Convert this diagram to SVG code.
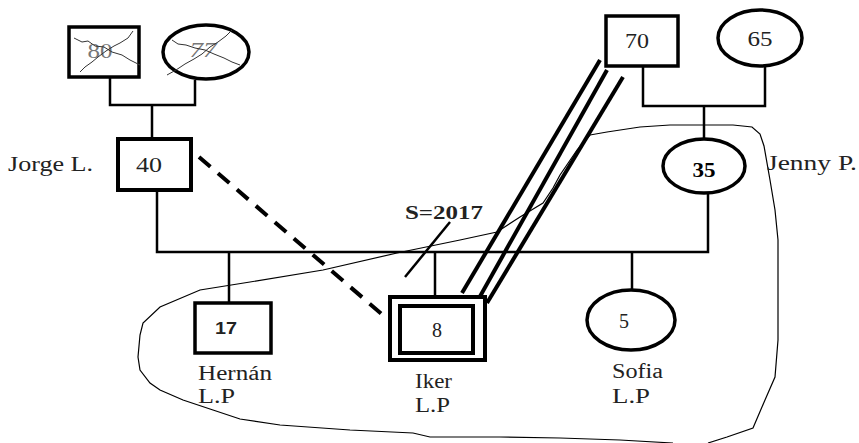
<svg xmlns="http://www.w3.org/2000/svg" width="859" height="443" viewBox="0 0 859 443">
<style>
.n{fill:#fff;stroke:#000;stroke-width:3.5}
.c{fill:none;stroke:#000;stroke-width:2.5}
.t{font-family:"Liberation Serif",serif;font-size:21px;fill:#222}
.lbl{font-family:"Liberation Serif",serif;font-size:20px;fill:#222}
.x{fill:none;stroke:#333;stroke-width:1}
</style>
<rect width="859" height="443" fill="#fff"/>
<g id="boundary">
<path d="M590,135 L607,132 L640,127 L670,125 L733,125 L752,127 L760,134 L764,146 L770,180 L775,210 L778,240 L778,340 L775,377 L765,400 L753,428 L727,437 L708,443 M673,443 L620,440 L560,438 L500,437 L430,437 L413,433 L350,430 L280,425 L240,419 L213,410 L183,400 L160,390 L150,383 L140,370 L138,357 L140,335 L143,323 L160,307 L200,290 L250,282 L323,270 L397,253 L460,240 L497,232 L520,217 L543,203 L553,188 L560,175 L577,150 L590,135" fill="none" stroke="#000" stroke-width="1.2"/>
</g>
<g id="connectors">
<path class="c" d="M110,77 V105 H195 V80 M152,105 V139"/>
<path class="c" d="M643,66 V106 H765 V66 M704,106 V138"/>
<path class="c" d="M157,190 V252 H708 V193"/>
<path class="c" d="M229,252 V303 M435,252 V297 M632,252 V290"/>
<line x1="199" y1="157" x2="384" y2="316" stroke="#000" stroke-width="4" stroke-dasharray="15,10"/>
<line x1="600" y1="60" x2="462" y2="293" stroke="#000" stroke-width="4"/>
<line x1="607" y1="70" x2="478" y2="300" stroke="#000" stroke-width="4"/>
<line x1="623" y1="77" x2="487" y2="303" stroke="#000" stroke-width="4"/>
<line x1="450" y1="222" x2="405" y2="277" stroke="#000" stroke-width="2.5"/>
</g>
<g id="n80">
<rect class="n" x="69" y="27" width="70" height="50"/>
<text class="t" x="100" y="58" text-anchor="middle" textLength="25" lengthAdjust="spacingAndGlyphs" style="fill:#777">80</text>
<path class="x" d="M74,38 L82,42 L88,41 L95,46 L104,47 L112,52 L122,55 L130,60 L140,65"/>
<path class="x" d="M133,31 L128,38 L120,43 L114,46 L106,51 L98,57 L92,62 L85,67 L80,72"/>
</g>
<g id="n77">
<ellipse class="n" cx="206" cy="52" rx="43" ry="27"/>
<text class="t" x="203" y="57" text-anchor="middle" textLength="27" lengthAdjust="spacingAndGlyphs" style="fill:#777;font-style:italic">77</text>
<path class="x" d="M172,40 L178,44 L186,45 L195,48 L205,50 L214,54 L224,58 L232,62 L240,65"/>
<path class="x" d="M232,30 L226,36 L218,42 L210,47 L202,54 L194,59 L185,64 L176,70 L167,75"/>
</g>
<g id="n40">
<rect x="118" y="139" width="73" height="51" fill="#fff" stroke="#000" stroke-width="4"/>
<text class="t" x="149" y="172" text-anchor="middle" textLength="26" lengthAdjust="spacingAndGlyphs">40</text>
<text class="lbl" x="8" y="171" textLength="85" lengthAdjust="spacingAndGlyphs">Jorge L.</text>
</g>
<g id="n70">
<rect class="n" x="606" y="16" width="72" height="50"/>
<text class="t" x="637" y="48" text-anchor="middle" textLength="24" lengthAdjust="spacingAndGlyphs">70</text>
</g>
<g id="n65">
<ellipse class="n" cx="760" cy="38" rx="42" ry="28"/>
<text class="t" x="760" y="46" text-anchor="middle" textLength="25" lengthAdjust="spacingAndGlyphs">65</text>
</g>
<g id="n35">
<ellipse class="n" cx="704" cy="166" rx="41" ry="27"/>
<text class="t" x="704" y="177" text-anchor="middle" textLength="23" lengthAdjust="spacingAndGlyphs" style="font-weight:bold;fill:#000">35</text>
<text class="lbl" x="767" y="170" textLength="90" lengthAdjust="spacingAndGlyphs">Jenny P.</text>
</g>
<g id="s2017">
<text x="405" y="219" textLength="78" lengthAdjust="spacingAndGlyphs" style="font-family:'Liberation Serif',serif;font-size:19px;font-weight:bold;fill:#222">S=2017</text>
</g>
<g id="n17">
<rect class="n" x="195" y="303" width="76" height="50"/>
<text x="226" y="334" text-anchor="middle" textLength="22" lengthAdjust="spacingAndGlyphs" style="font-family:'Liberation Sans',sans-serif;font-size:16px;font-weight:bold;fill:#222">17</text>
<text class="lbl" x="198" y="380" textLength="74" lengthAdjust="spacingAndGlyphs">Hernán</text>
<text class="lbl" x="198" y="403" textLength="37" lengthAdjust="spacingAndGlyphs">L.P</text>
</g>
<g id="n8">
<rect x="390" y="297" width="95" height="63" fill="#fff" stroke="#000" stroke-width="4"/>
<rect x="400" y="306" width="73" height="47" fill="#fff" stroke="#000" stroke-width="4"/>
<text class="t" x="437" y="337" text-anchor="middle" textLength="10" lengthAdjust="spacingAndGlyphs">8</text>
<text class="lbl" x="415" y="388" textLength="37" lengthAdjust="spacingAndGlyphs">Iker</text>
<text class="lbl" x="415" y="412" textLength="35" lengthAdjust="spacingAndGlyphs">L.P</text>
</g>
<g id="n5">
<ellipse class="n" cx="631" cy="320" rx="44" ry="30"/>
<text class="t" x="624" y="328" text-anchor="middle" textLength="10" lengthAdjust="spacingAndGlyphs">5</text>
<text class="lbl" x="612" y="378" textLength="51" lengthAdjust="spacingAndGlyphs">Sofia</text>
<text class="lbl" x="612" y="403" textLength="38" lengthAdjust="spacingAndGlyphs">L.P</text>
</g>
</svg>
